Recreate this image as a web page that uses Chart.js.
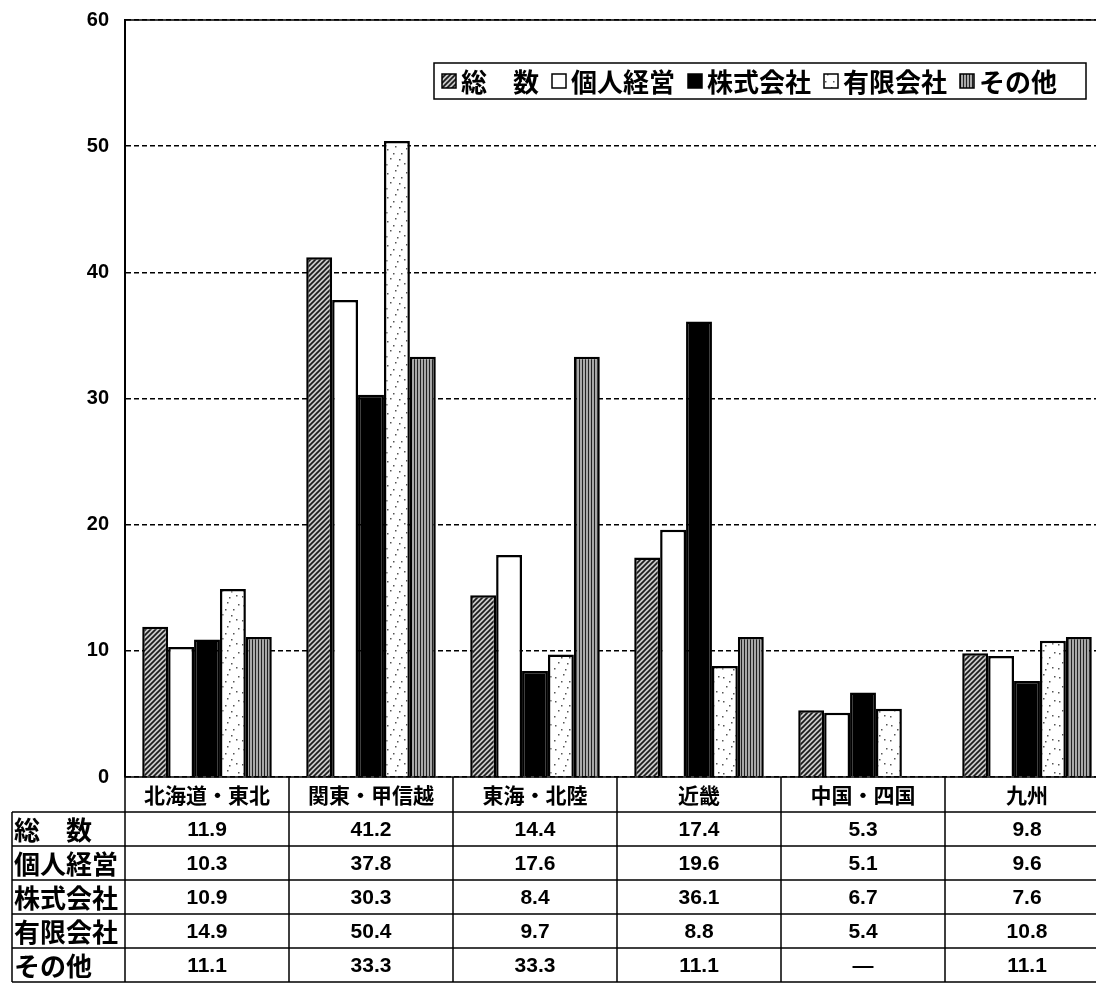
<!DOCTYPE html>
<html lang="ja">
<head>
<meta charset="utf-8">
<script src="https://cdn.jsdelivr.net/npm/chart.js@4.4.1/dist/chart.umd.min.js"></script>
<style>
  html, body { margin: 0; padding: 0; background: #fff; overflow: hidden; }
</style>
</head>
<body>
<canvas id="chart" width="1120" height="985"></canvas>
<script>
// 地域別・経営形態別 構成比

const categories = ["北海道・東北", "関東・甲信越", "東海・北陸", "近畿", "中国・四国", "九州"];
const seriesNames = ["総　数", "個人経営", "株式会社", "有限会社", "その他"];
const sousu    = [11.9, 41.2, 14.4, 17.4, 5.3, 9.8];
const kojin    = [10.3, 37.8, 17.6, 19.6, 5.1, 9.6];
const kabushiki = [10.9, 30.3, 8.4, 36.1, 6.7, 7.6];
const yugen    = [14.9, 50.4, 9.7, 8.8, 5.4, 10.8];
const sonota   = [11.1, 33.3, 33.3, 11.1, null, 11.1];
const yMin = 0, yMax = 60, yStep = 10;

const canvas = document.getElementById("chart");
const ctx = canvas.getContext("2d");

// fill patterns (monochrome print look)
function makePattern(size, draw) {
    const c = document.createElement("canvas");
    c.width = size;
    c.height = size;
    draw(c.getContext("2d"), size);
    return ctx.createPattern(c, "repeat");
}

const hatch = makePattern(5, (g, s) => {
    g.fillStyle = "#c8c8c8";
    g.fillRect(0, 0, s, s);
    g.strokeStyle = "#1a1a1a";
    g.lineWidth = 1.7;
    g.beginPath();
    g.moveTo(-1, s + 1); g.lineTo(s + 1, -1);
    g.moveTo(-1, 1); g.lineTo(1, -1);
    g.moveTo(s - 1, s + 1); g.lineTo(s + 1, s - 1);
    g.stroke();
});

const dots = makePattern(24, (g, s) => {
    g.fillStyle = "#fff";
    g.fillRect(0, 0, s, s);
    g.fillStyle = "#555";
    [[3, 5], [11, 2], [17, 9], [6, 14], [20, 19], [13, 21], [2, 20], [9, 9], [15, 15], [22, 4]]
        .forEach(p => g.fillRect(p[0], p[1], 1.5, 1.5));
});

const stripes = makePattern(3, (g, s) => {
    g.fillStyle = "#a8a8a8";
    g.fillRect(0, 0, s, s);
    g.fillStyle = "#222";
    g.fillRect(0, 0, 1, s);
});

const fills = [hatch, "#ffffff", "#000000", dots, stripes];
const seriesValues = [sousu, kojin, kabushiki, yugen, sonota];

// legend box + data table under the plot
const tablePlugin = {
    id: "tablePlugin",
    afterDraw(chart) {
        const c = chart.ctx;
        const area = chart.chartArea;
        const colW = (area.right - area.left) / categories.length;
        const headTop = area.bottom;
        const headBottom = headTop + 35;
        const rowH = 34;
        const tableBottom = headBottom + rowH * seriesNames.length;

        c.save();
        // solid top frame line
        c.strokeStyle = "#000";
        c.lineWidth = 1.5;
        c.beginPath();
        c.moveTo(area.left, area.top);
        c.lineTo(area.right, area.top);
        c.stroke();

        // table grid
        c.lineWidth = 1.5;
        c.beginPath();
        c.moveTo(area.left, headTop); c.lineTo(area.right, headTop);
        for (let r = 0; r <= seriesNames.length; r++) {
            const y = headBottom + r * rowH;
            c.moveTo(12, y); c.lineTo(area.right, y);
        }
        c.moveTo(12, headBottom); c.lineTo(12, tableBottom);
        for (let i = 0; i <= categories.length; i++) {
            const x = area.left + i * colW;
            c.moveTo(x, headTop); c.lineTo(x, tableBottom);
        }
        c.stroke();

        c.fillStyle = "#000";
        c.textBaseline = "middle";
        c.textAlign = "center";
        c.font = "bold 21px 'Noto Sans CJK JP'";
        categories.forEach((cat, i) => {
            c.fillText(cat, area.left + (i + 0.5) * colW, (headTop + headBottom) / 2 + 1);
        });

        seriesNames.forEach((name, r) => {
            const yMid = headBottom + (r + 0.5) * rowH + 1;
            c.textAlign = "left";
            c.font = "bold 26px 'Noto Sans CJK JP'";
            c.fillText(name, 14, yMid);
            c.textAlign = "center";
            c.font = "bold 21px 'Liberation Sans'";
            seriesValues[r].forEach((v, i) => {
                const txt = v == null ? "—" : v.toFixed(1);
                c.fillText(txt, area.left + (i + 0.5) * colW, yMid);
            });
        });

        // legend
        const box = { x: 434, y: 63, w: 652, h: 36 };
        c.fillStyle = "#fff";
        c.fillRect(box.x, box.y, box.w, box.h);
        c.strokeStyle = "#000";
        c.lineWidth = 1.5;
        c.strokeRect(box.x, box.y, box.w, box.h);
        c.font = "bold 26px 'Noto Sans CJK JP'";
        c.textAlign = "left";
        let x = box.x + 8;
        const midY = box.y + box.h / 2;
        seriesNames.forEach((name, k) => {
            c.fillStyle = fills[k];
            c.fillRect(x, midY - 7, 14, 14);
            c.strokeStyle = "#000";
            c.lineWidth = 1.5;
            c.strokeRect(x, midY - 7, 14, 14);
            c.fillStyle = "#000";
            c.fillText(name, x + 19, midY + 1);
            x += 19 + c.measureText(name).width + 13;
        });
        c.restore();
    }
};

new Chart(canvas, {
    type: "bar",
    data: {
        labels: categories,
        datasets: seriesNames.map((name, k) => ({
            label: name,
            data: seriesValues[k],
            backgroundColor: fills[k],
            borderColor: "#000",
            borderWidth: 2.5,
            categoryPercentage: 0.79,
            barPercentage: 1.0,
        })),
    },
    options: {
        responsive: false,
        animation: false,
        layout: {
            padding: { top: 20, right: 11, bottom: 208, left: 0 }
        },
        scales: {
            x: {
                display: false,
            },
            y: {
                min: yMin,
                max: yMax,
                afterFit: (s) => {
                    s.width = 125;
                    s.paddingTop = 0;
                    s.paddingBottom = 0;
                },
                ticks: {
                    stepSize: yStep,
                    padding: 16,
                    color: "#000",
                    font: { family: "'Liberation Sans'", size: 20, weight: "bold" },
                },
                grid: {
                    color: "#000",
                    lineWidth: 1.4,
                    drawTicks: false,
                },
                border: {
                    display: true,
                    color: "#000",
                    width: 2,
                    dash: [5, 3],
                },
            },
        },
        plugins: {
            legend: { display: false },
            tooltip: { enabled: false },
        },
    },
    plugins: [tablePlugin],
});
</script>
</body>
</html>
